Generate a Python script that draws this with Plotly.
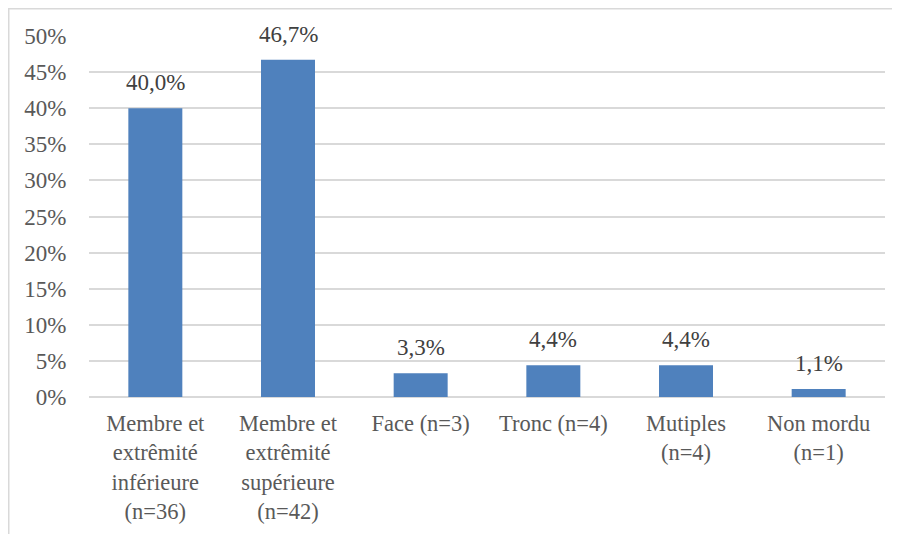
import plotly.graph_objects as go

categories = [
    "Membre et<br>extrêmité<br>inférieure<br>(n=36)",
    "Membre et<br>extrêmité<br>supérieure<br>(n=42)",
    "Face (n=3)",
    "Tronc (n=4)",
    "Mutiples<br>(n=4)",
    "Non mordu<br>(n=1)",
]
values = [0.400, 0.467, 0.033, 0.044, 0.044, 0.011]
labels = [f"{v*100:.1f}%".replace(".", ",") for v in values]
y_ticks = [0, 0.05, 0.10, 0.15, 0.20, 0.25, 0.30, 0.35, 0.40, 0.45, 0.50]

FONT = "Liberation Serif"
TXT = "#595959"
GRID = "#D9D9D9"

W, H = 893, 526
L, R, T, B = 81, 16, 28, 137
PW, PH = W - L - R, H - T - B

fig = go.Figure(go.Bar(
    x=categories, y=values,
    marker=dict(color="#4F81BD", line=dict(width=0)),
    cliponaxis=False, hoverinfo="skip",
))

annotations = [
    dict(x=c, y=v, text=t, xref="x", yref="y", showarrow=False,
         yanchor="bottom", yshift=11,
         font=dict(family=FONT, size=23, color="#404040"))
    for c, v, t in zip(categories, values, labels)
]

fig.update_layout(
    width=W, height=H,
    margin=dict(l=L, r=R, t=T, b=B, autoexpand=False),
    paper_bgcolor="white", plot_bgcolor="white",
    bargap=0.593, showlegend=False,
    font=dict(family=FONT, size=23, color=TXT),
    annotations=annotations,
    shapes=[
        dict(type="line", xref="paper", yref="paper",
             x0=(0.75 - L) / PW, x1=(0.75 - L) / PW,
             y0=(T + PH - 0.75) / PH, y1=-(B + 10) / PH,
             line=dict(color=GRID, width=1.5)),
        dict(type="line", xref="paper", yref="paper",
             x0=(0 - L) / PW, x1=(884 - L) / PW,
             y0=(T + PH - 0.75) / PH, y1=(T + PH - 0.75) / PH,
             line=dict(color=GRID, width=1.5)),
    ],
)
fig.update_yaxes(
    range=[0, 0.5], tickvals=y_ticks, tickformat=".0%", automargin=False,
    showgrid=True, gridcolor=GRID, gridwidth=1.5,
    zeroline=True, zerolinecolor=GRID, zerolinewidth=1.5,
    ticks="outside", ticklen=17, tickcolor="rgba(0,0,0,0)",
    tickfont=dict(family=FONT, size=23, color=TXT),
)
fig.update_xaxes(
    showgrid=False, showline=False, automargin=False,
    ticks="outside", ticklen=6, tickcolor="rgba(0,0,0,0)",
    tickfont=dict(family=FONT, size=22.5, color=TXT),
)

fig.write_html("out.html")
